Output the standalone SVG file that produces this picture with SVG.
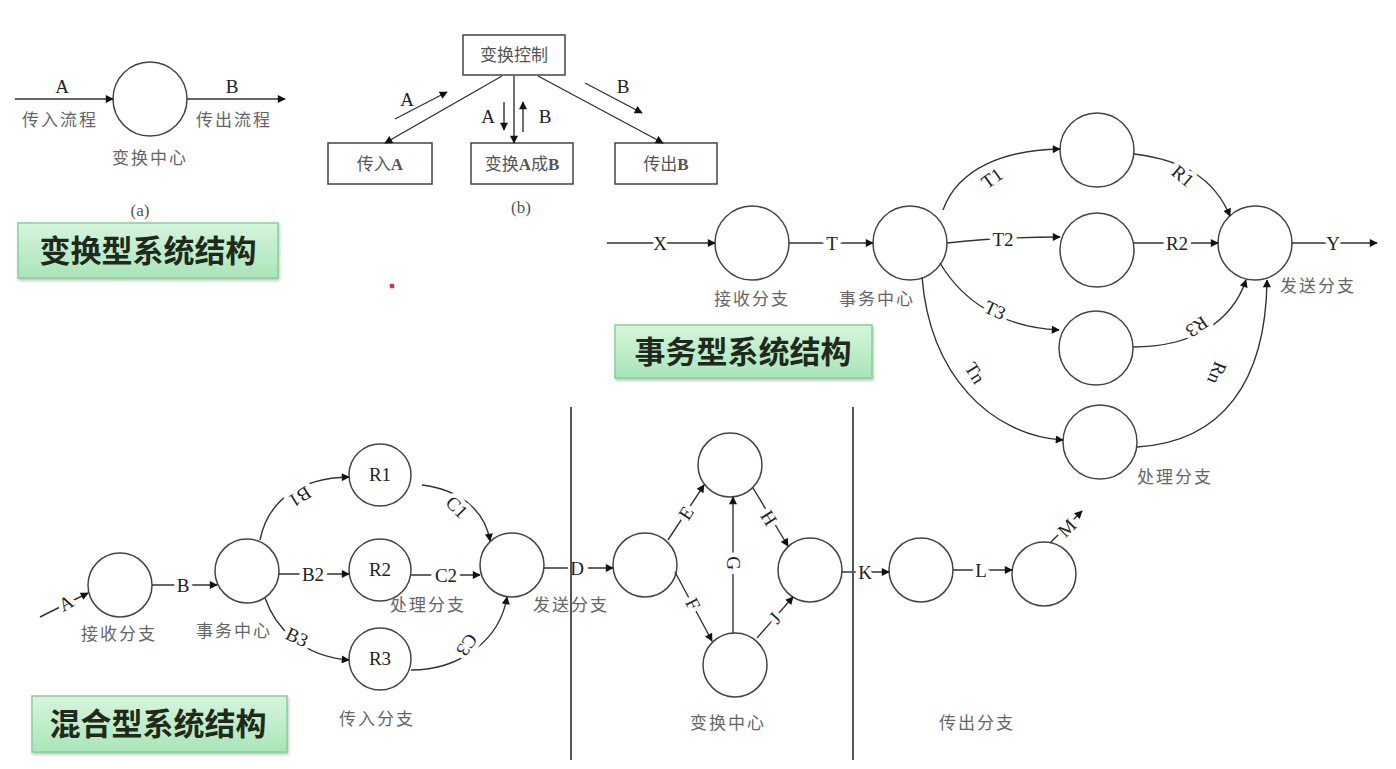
<svg xmlns="http://www.w3.org/2000/svg" width="1396" height="769" viewBox="0 0 1396 769">
<style>
.ln{fill:none;stroke:#333;stroke-width:1.4}
.nd{fill:#fff;stroke:#444;stroke-width:1.5}
.bx{fill:#fff;stroke:#444;stroke-width:1.5}
.cn{font-family:"Liberation Serif","Noto Sans CJK SC",serif;font-size:17px;fill:#666;text-anchor:middle;letter-spacing:2px}
.lt{font-family:"Liberation Serif","Noto Sans CJK SC",serif;font-size:19px;fill:#222;text-anchor:middle;dominant-baseline:central}
.lb{font-family:"Liberation Serif","Noto Sans CJK SC",serif;font-size:19px;fill:#222;text-anchor:middle;dominant-baseline:central;stroke:#fff;stroke-width:9px;stroke-linejoin:round;paint-order:stroke}
.bt{font-family:"Liberation Serif","Noto Sans CJK SC",serif;font-size:17px;fill:#555;text-anchor:middle;dominant-baseline:central}
.tt{font-family:"Noto Sans CJK SC",sans-serif;font-size:31px;font-weight:bold;fill:#1f2a1c;text-anchor:middle}
.gb{fill:url(#gg);stroke:#86cf9a;stroke-width:1.5}
</style>
<defs>
<marker id="ar" viewBox="0 0 10 10" refX="9" refY="5" markerWidth="11" markerHeight="8" markerUnits="userSpaceOnUse" orient="auto"><path d="M0,0 L10,5 L0,10 z" fill="#111"/></marker>
<linearGradient id="gg" x1="0" y1="0" x2="0" y2="1"><stop offset="0" stop-color="#d6f5dc"/><stop offset="1" stop-color="#a9e5b8"/></linearGradient>
<filter id="sh" x="-5%" y="-10%" width="110%" height="130%"><feDropShadow dx="1" dy="2" stdDeviation="1.5" flood-color="#888" flood-opacity="0.5"/></filter>
</defs>
<rect width="1396" height="769" fill="#fff"/>

<!-- titles -->
<g id="title-transform"><rect class="gb" filter="url(#sh)" x="18" y="223" width="260" height="55"/><text class="tt" x="148" y="262">变换型系统结构</text></g>
<g id="title-transaction"><rect class="gb" filter="url(#sh)" x="615" y="325" width="257" height="53"/><text class="tt" x="743" y="363">事务型系统结构</text></g>
<g id="title-mixed"><rect class="gb" filter="url(#sh)" x="32" y="696" width="255" height="56"/><text class="tt" x="158" y="735">混合型系统结构</text></g>
<circle cx="392" cy="286" r="2.5" fill="#c8385e"/>

<!-- (a) -->
<g id="a-center"><circle class="nd" cx="150" cy="99" r="37"/><text class="cn" x="150" y="164">变换中心</text></g>
<text class="cn" x="60" y="126">传入流程</text>
<text class="cn" x="234" y="126">传出流程</text>
<text class="lt" x="62" y="86">A</text>
<text class="lt" x="232" y="86">B</text>
<text class="bt" x="140" y="210">(a)</text>

<!-- (b) -->
<g id="b-ctrl"><rect class="bx" x="463" y="35" width="102" height="40"/><text class="bt" x="514" y="55">变换控制</text></g>
<g id="b-in"><rect class="bx" x="328" y="143" width="104" height="41"/><text class="bt" x="380" y="164">传入<tspan font-weight="bold">A</tspan></text></g>
<g id="b-tr"><rect class="bx" x="471" y="143" width="102" height="41"/><text class="bt" x="522" y="164">变换<tspan font-weight="bold">A</tspan>成<tspan font-weight="bold">B</tspan></text></g>
<g id="b-out"><rect class="bx" x="615" y="143" width="102" height="41"/><text class="bt" x="666" y="164">传出<tspan font-weight="bold">B</tspan></text></g>
<text class="lt" x="407" y="99">A</text>
<text class="lt" x="488" y="116">A</text>
<text class="lt" x="545" y="116">B</text>
<text class="lt" x="623" y="86">B</text>
<text class="bt" x="521" y="207">(b)</text>

<!-- transaction nodes -->
<g id="t-recv"><circle class="nd" cx="752" cy="243" r="37"/><text class="cn" x="752" y="305">接收分支</text></g>
<g id="t-center"><circle class="nd" cx="910" cy="243" r="37"/><text class="cn" x="877" y="305">事务中心</text></g>
<g id="t-p1"><circle class="nd" cx="1097" cy="150" r="37"/></g>
<g id="t-p2"><circle class="nd" cx="1097" cy="250" r="37"/></g>
<g id="t-p3"><circle class="nd" cx="1096" cy="348" r="37"/></g>
<g id="t-pn"><circle class="nd" cx="1100" cy="442" r="37"/><text class="cn" x="1175" y="483">处理分支</text></g>
<g id="t-send"><circle class="nd" cx="1255" cy="243" r="37"/><text class="cn" x="1318" y="292">发送分支</text></g>

<!-- mixed nodes -->
<g id="m-recv"><circle class="nd" cx="120" cy="585" r="32"/><text class="cn" x="119" y="640" font-size="19">接收分支</text></g>
<g id="m-center"><circle class="nd" cx="247" cy="571" r="32"/><text class="cn" x="234" y="637" font-size="19">事务中心</text></g>
<g id="m-r1"><circle class="nd" cx="380" cy="475" r="31"/><text class="lt" x="380" y="474">R1</text></g>
<g id="m-r2"><circle class="nd" cx="380" cy="570" r="31"/><text class="lt" x="380" y="569">R2</text></g>
<g id="m-r3"><circle class="nd" cx="380" cy="659" r="31"/><text class="lt" x="380" y="658">R3</text></g>
<g id="m-send"><circle class="nd" cx="512" cy="565" r="32"/></g>
<g id="m-t1"><circle class="nd" cx="645" cy="565" r="32"/></g>
<g id="m-t2"><circle class="nd" cx="730" cy="465" r="32"/></g>
<g id="m-t3"><circle class="nd" cx="735" cy="665" r="32"/></g>
<g id="m-t4"><circle class="nd" cx="810" cy="570" r="32"/></g>
<g id="m-o1"><circle class="nd" cx="921" cy="570" r="32"/></g>
<g id="m-o2"><circle class="nd" cx="1044" cy="574" r="32"/></g>
<text class="cn" x="428" y="611" font-size="19">处理分支</text>
<text class="cn" x="571" y="611" font-size="19">发送分支</text>
<text class="cn" x="377" y="725" font-size="19">传入分支</text>
<text class="cn" x="728" y="729" font-size="19">变换中心</text>
<text class="cn" x="977" y="729" font-size="19">传出分支</text>

<!-- connectors -->
<g id="connectors">
<path class="ln" d="M15,99 L113,99" marker-end="url(#ar)"/>
<path class="ln" d="M187,99 L285,99" marker-end="url(#ar)"/>
<path class="ln" d="M502,76 L385,143" marker-end="url(#ar)"/>
<path class="ln" d="M514,76 L514,143" marker-end="url(#ar)"/>
<path class="ln" d="M538,76 L663,143" marker-end="url(#ar)"/>
<path class="ln" d="M395,119 L447,92" marker-end="url(#ar)"/>
<path class="ln" d="M504,102 L504,130" marker-end="url(#ar)"/>
<path class="ln" d="M523,132 L523,102" marker-end="url(#ar)"/>
<path class="ln" d="M585,83 L642,113" marker-end="url(#ar)"/>

<path class="ln" d="M607,243 L715,243" marker-end="url(#ar)"/>
<path class="ln" d="M789,243 L873,243" marker-end="url(#ar)"/>
<path class="ln" d="M943,210 C958,168 1005,150 1060,149" marker-end="url(#ar)"/>
<path class="ln" d="M947,243 Q1000,237 1060,237" marker-end="url(#ar)"/>
<path class="ln" d="M940,263 C962,300 1000,327 1059,330" marker-end="url(#ar)"/>
<path class="ln" d="M922,277 C930,375 990,435 1063,440" marker-end="url(#ar)"/>
<path class="ln" d="M1134,154 C1185,160 1215,180 1230,216" marker-end="url(#ar)"/>
<path class="ln" d="M1133,243 L1218,243" marker-end="url(#ar)"/>
<path class="ln" d="M1133,347 C1192,347 1232,322 1246,280" marker-end="url(#ar)"/>
<path class="ln" d="M1137,447 C1222,442 1266,382 1267,280" marker-end="url(#ar)"/>
<path class="ln" d="M1292,243 L1377,243" marker-end="url(#ar)"/>
<text class="lb" x="660" y="243">X</text>
<text class="lb" x="832" y="243">T</text>
<text class="lb" x="992" y="178" transform="rotate(-35 992 178)">T1</text>
<text class="lb" x="1003" y="239">T2</text>
<text class="lb" x="995" y="310" transform="rotate(25 995 310)">T3</text>
<text class="lb" x="975" y="373" transform="rotate(58 975 373)">Tn</text>
<text class="lb" x="1183" y="176" transform="rotate(40 1183 176)">R1</text>
<text class="lb" x="1177" y="243">R2</text>
<text class="lb" x="1197" y="327" transform="rotate(145 1197 327)">R3</text>
<text class="lb" x="1217" y="373" transform="rotate(112 1217 373)">Rn</text>
<text class="lb" x="1333" y="243">Y</text>

<path class="ln" d="M40,617 L88,593" marker-end="url(#ar)"/>
<path class="ln" d="M152,585 L217,585" marker-end="url(#ar)"/>
<path class="ln" d="M260,540 C268,500 300,478 349,477" marker-end="url(#ar)"/>
<path class="ln" d="M279,574 L349,574" marker-end="url(#ar)"/>
<path class="ln" d="M265,598 C275,626 300,656 349,660" marker-end="url(#ar)"/>
<path class="ln" d="M422,485 C460,490 485,510 490,541" marker-end="url(#ar)"/>
<path class="ln" d="M411,575 L480,575" marker-end="url(#ar)"/>
<path class="ln" d="M411,670 C460,670 500,640 507,597" marker-end="url(#ar)"/>
<path class="ln" d="M544,568 L613,568" marker-end="url(#ar)"/>
<path class="ln" d="M668,540 L704,485" marker-end="url(#ar)"/>
<path class="ln" d="M675,572 L712,641" marker-end="url(#ar)"/>
<path class="ln" d="M733,633 L733,497" marker-end="url(#ar)"/>
<path class="ln" d="M753,488 L788,546" marker-end="url(#ar)"/>
<path class="ln" d="M757,638 L793,597" marker-end="url(#ar)"/>
<path class="ln" d="M842,572 L889,572" marker-end="url(#ar)"/>
<path class="ln" d="M953,570 L1012,570" marker-end="url(#ar)"/>
<path class="ln" d="M1050,543 L1082,511" marker-end="url(#ar)"/>
<text class="lb" x="66" y="603" transform="rotate(-28 66 603)">A</text>
<text class="lb" x="183" y="585">B</text>
<text class="lb" x="300" y="497" transform="rotate(148 300 497)">B1</text>
<text class="lb" x="313" y="574">B2</text>
<text class="lb" x="297" y="637" transform="rotate(25 297 637)">B3</text>
<text class="lb" x="457" y="507" transform="rotate(45 457 507)">C1</text>
<text class="lb" x="446" y="575">C2</text>
<text class="lb" x="467" y="645" transform="rotate(125 467 645)">C3</text>
<text class="lb" x="577" y="568">D</text>
<text class="lb" x="686" y="513" transform="rotate(-57 686 513)">E</text>
<text class="lb" x="693" y="604" transform="rotate(62 693 604)">F</text>
<text class="lb" x="733" y="563" transform="rotate(90 733 563)">G</text>
<text class="lb" x="769" y="518" transform="rotate(58 769 518)">H</text>
<text class="lb" x="775" y="618" transform="rotate(-48 775 618)">J</text>
<text class="lb" x="865" y="572">K</text>
<text class="lb" x="981" y="570">L</text>
<text class="lb" x="1067" y="528" transform="rotate(-45 1067 528)">M</text>
</g>
<g id="dividers">
<line x1="571" y1="407" x2="571" y2="760" stroke="#555" stroke-width="2"/>
<line x1="853" y1="407" x2="853" y2="760" stroke="#555" stroke-width="2"/>
</g>
</svg>
